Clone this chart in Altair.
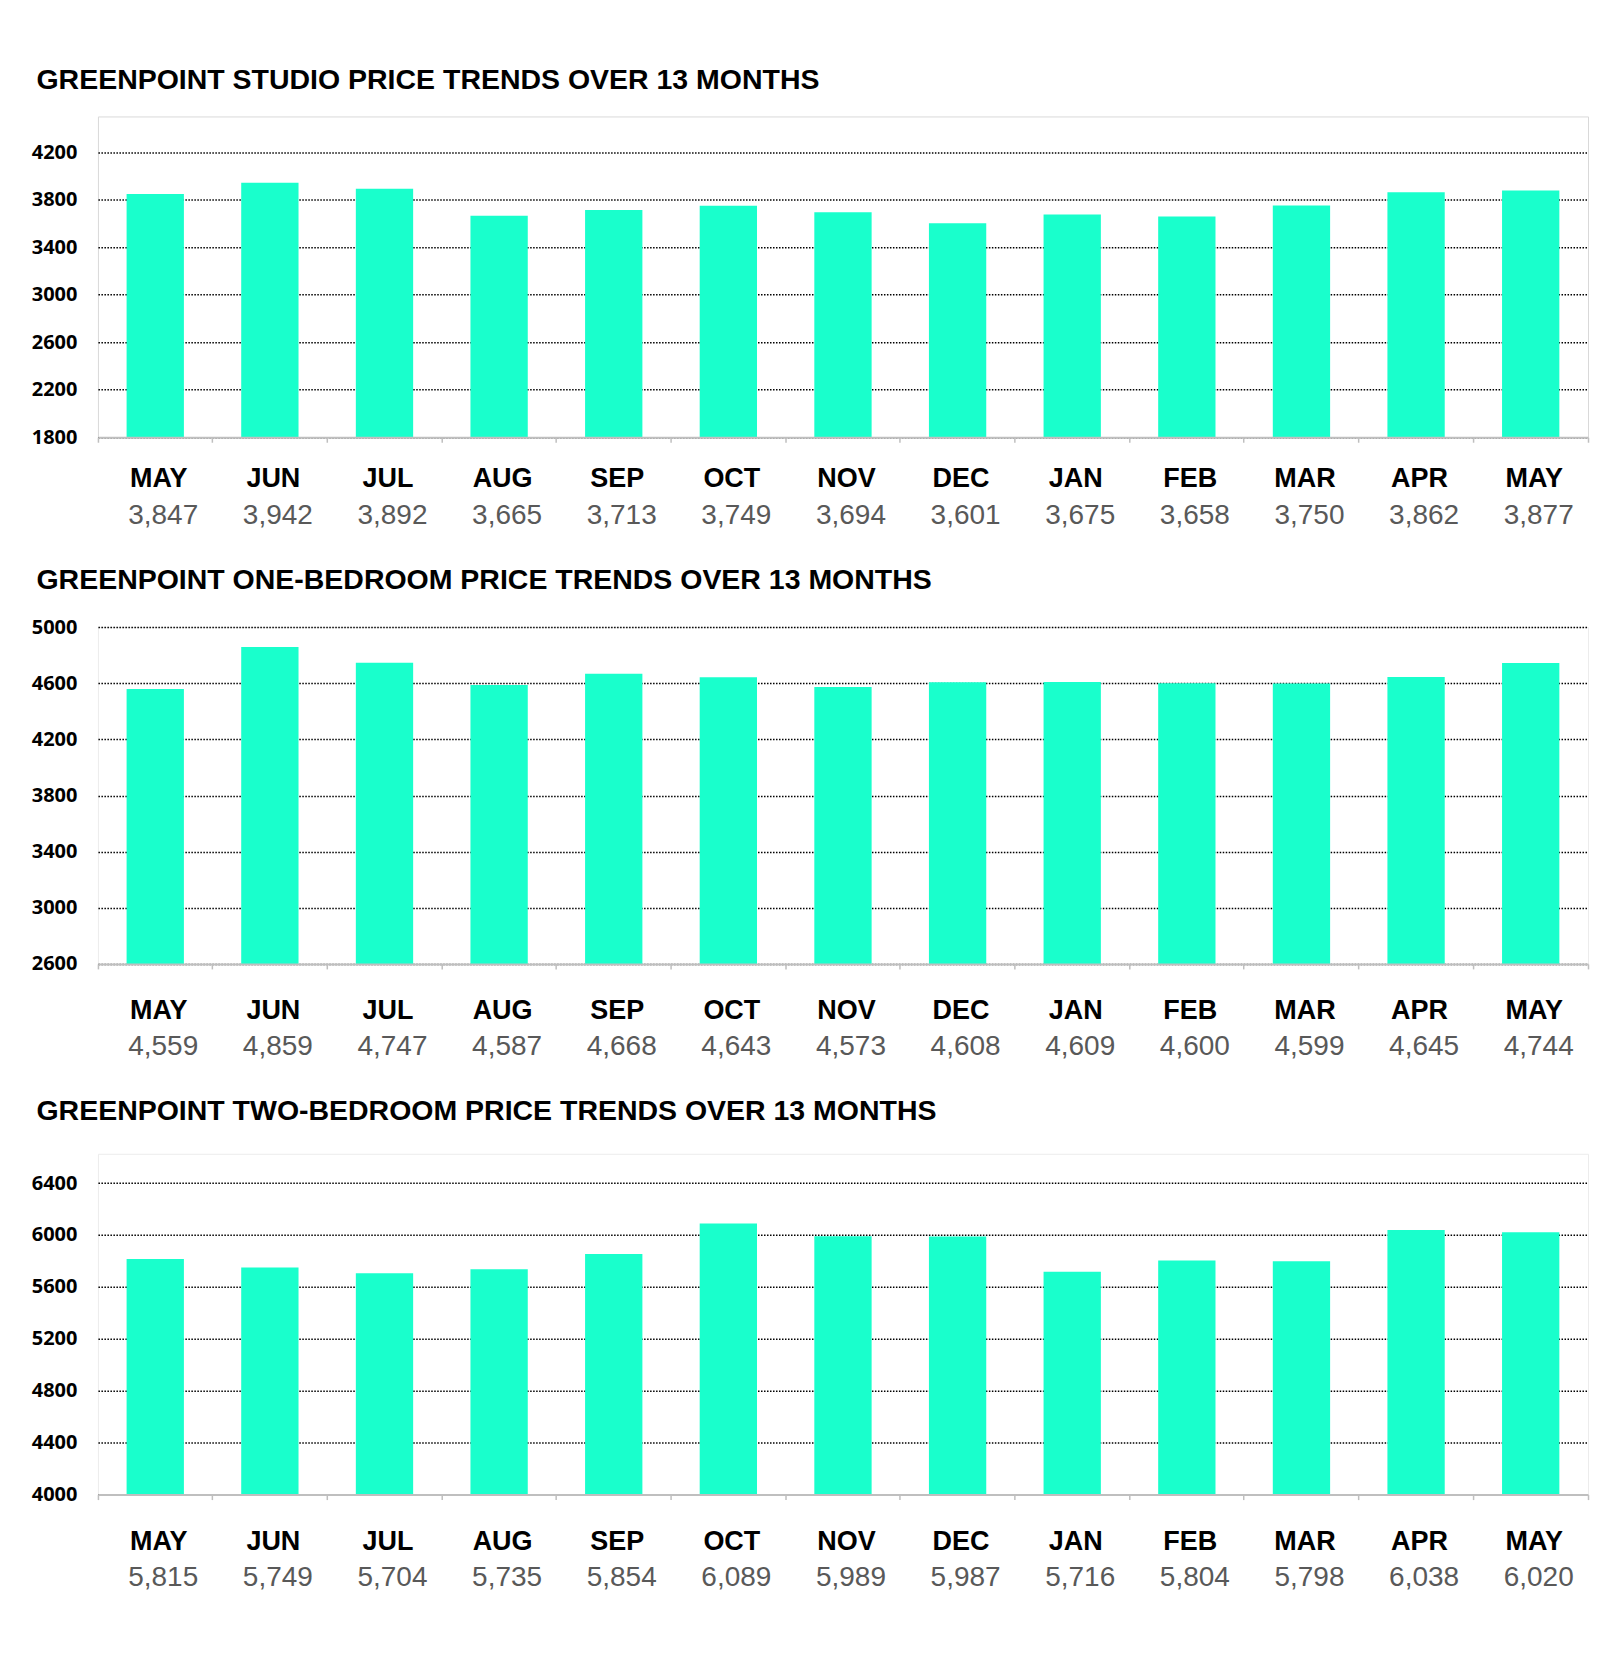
import altair as alt
import pandas as pd

# Month labels for the 13-month window
months = ["MAY", "JUN", "JUL", "AUG", "SEP", "OCT", "NOV", "DEC",
          "JAN", "FEB", "MAR", "APR", "MAY"]

# Average rents per month
studio = [3847, 3942, 3892, 3665, 3713, 3749, 3694, 3601, 3675, 3658, 3750, 3862, 3877]
one_bed = [4559, 4859, 4747, 4587, 4668, 4643, 4573, 4608, 4609, 4600, 4599, 4645, 4744]
two_bed = [5815, 5749, 5704, 5735, 5854, 6089, 5989, 5987, 5716, 5804, 5798, 6038, 6020]

# Y axis tick values per panel
studio_ticks = [1800, 2200, 2600, 3000, 3400, 3800, 4200]
one_bed_ticks = [2600, 3000, 3400, 3800, 4200, 4600, 5000]
two_bed_ticks = [4000, 4400, 4800, 5200, 5600, 6000, 6400]

BAR = "#19FFCC"
WIDTH = 1491


def panel(title, values, ticks, domain, height, title_offset, month_dy, value_dy, frame):
    df = pd.DataFrame({"slot": list(range(len(months))), "month": months, "value": values})
    base = alt.Chart(df)
    x = alt.X(
        "slot:O",
        scale=alt.Scale(paddingInner=0, paddingOuter=0),
        axis=alt.Axis(
            title=None, labels=False, grid=False,
            domainColor="#bfbfbf", domainWidth=2,
            ticks=True, tickColor="#bfbfbf", tickSize=5, tickWidth=1.5,
            bandPosition=1, tickExtra=True, zindex=1,
        ),
    )
    bars = base.mark_bar(color=BAR, width=alt.RelativeBandSize(0.5), clip=True).encode(
        x=x,
        y=alt.Y(
            "value:Q",
            scale=alt.Scale(domain=domain, nice=False, zero=False),
            axis=alt.Axis(
                title=None, values=ticks, format="d", grid=True, gridColor="#000000",
                gridDash=[1.5, 1.5], gridWidth=1.5, domain=False, ticks=False,
                labelFont="Open Sans", labelFontWeight="bold", labelFontSize=20,
                labelColor="#000000", labelPadding=21,
            ),
        ),
    )
    month_text = base.mark_text(
        align="center", baseline="alphabetic", dx=3.5,
        font="Liberation Sans", fontWeight="bold", fontSize=27, color="#000000",
    ).encode(x=alt.X("slot:O"), y=alt.value(height + month_dy), text="month:N")
    value_text = base.mark_text(
        align="center", baseline="alphabetic", dx=8,
        font="Liberation Sans", fontSize=28, color="#595959",
    ).encode(x=alt.X("slot:O"), y=alt.value(height + value_dy), text=alt.Text("value:Q", format=","))
    return alt.layer(bars, month_text, value_text).properties(
        width=WIDTH,
        height=height,
        view=alt.ViewBackground(stroke=frame, strokeWidth=1),
        title=alt.TitleParams(
            title, anchor="start", frame="group", dx=-61.5, offset=title_offset,
            baseline="alphabetic", font="Liberation Sans", fontSize=28.5,
            fontWeight="bold", color="#000000",
        ),
    )


p1 = panel("GREENPOINT STUDIO PRICE TRENDS OVER 13 MONTHS", studio, studio_ticks,
           [1800, 4500], 321, -1, 50, 87, "#d9d9d9")
p2 = panel("GREENPOINT ONE-BEDROOM PRICE TRENDS OVER 13 MONTHS", one_bed, one_bed_ticks,
           [2600, 5000], 337, 0, 55, 91, "#ececec")
p3 = panel("GREENPOINT TWO-BEDROOM PRICE TRENDS OVER 13 MONTHS", two_bed, two_bed_ticks,
           [4000, 6625], 341, 5, 55, 91, "#ececec")

chart = alt.vconcat(p1, p2, p3, spacing=190, bounds="flush").properties(
    padding={"left": 30, "top": 65, "right": 10, "bottom": 60},
    background="#ffffff",
).configure_view(strokeWidth=1)

chart.save("out.html", embed_options={"renderer": "svg", "actions": False})
